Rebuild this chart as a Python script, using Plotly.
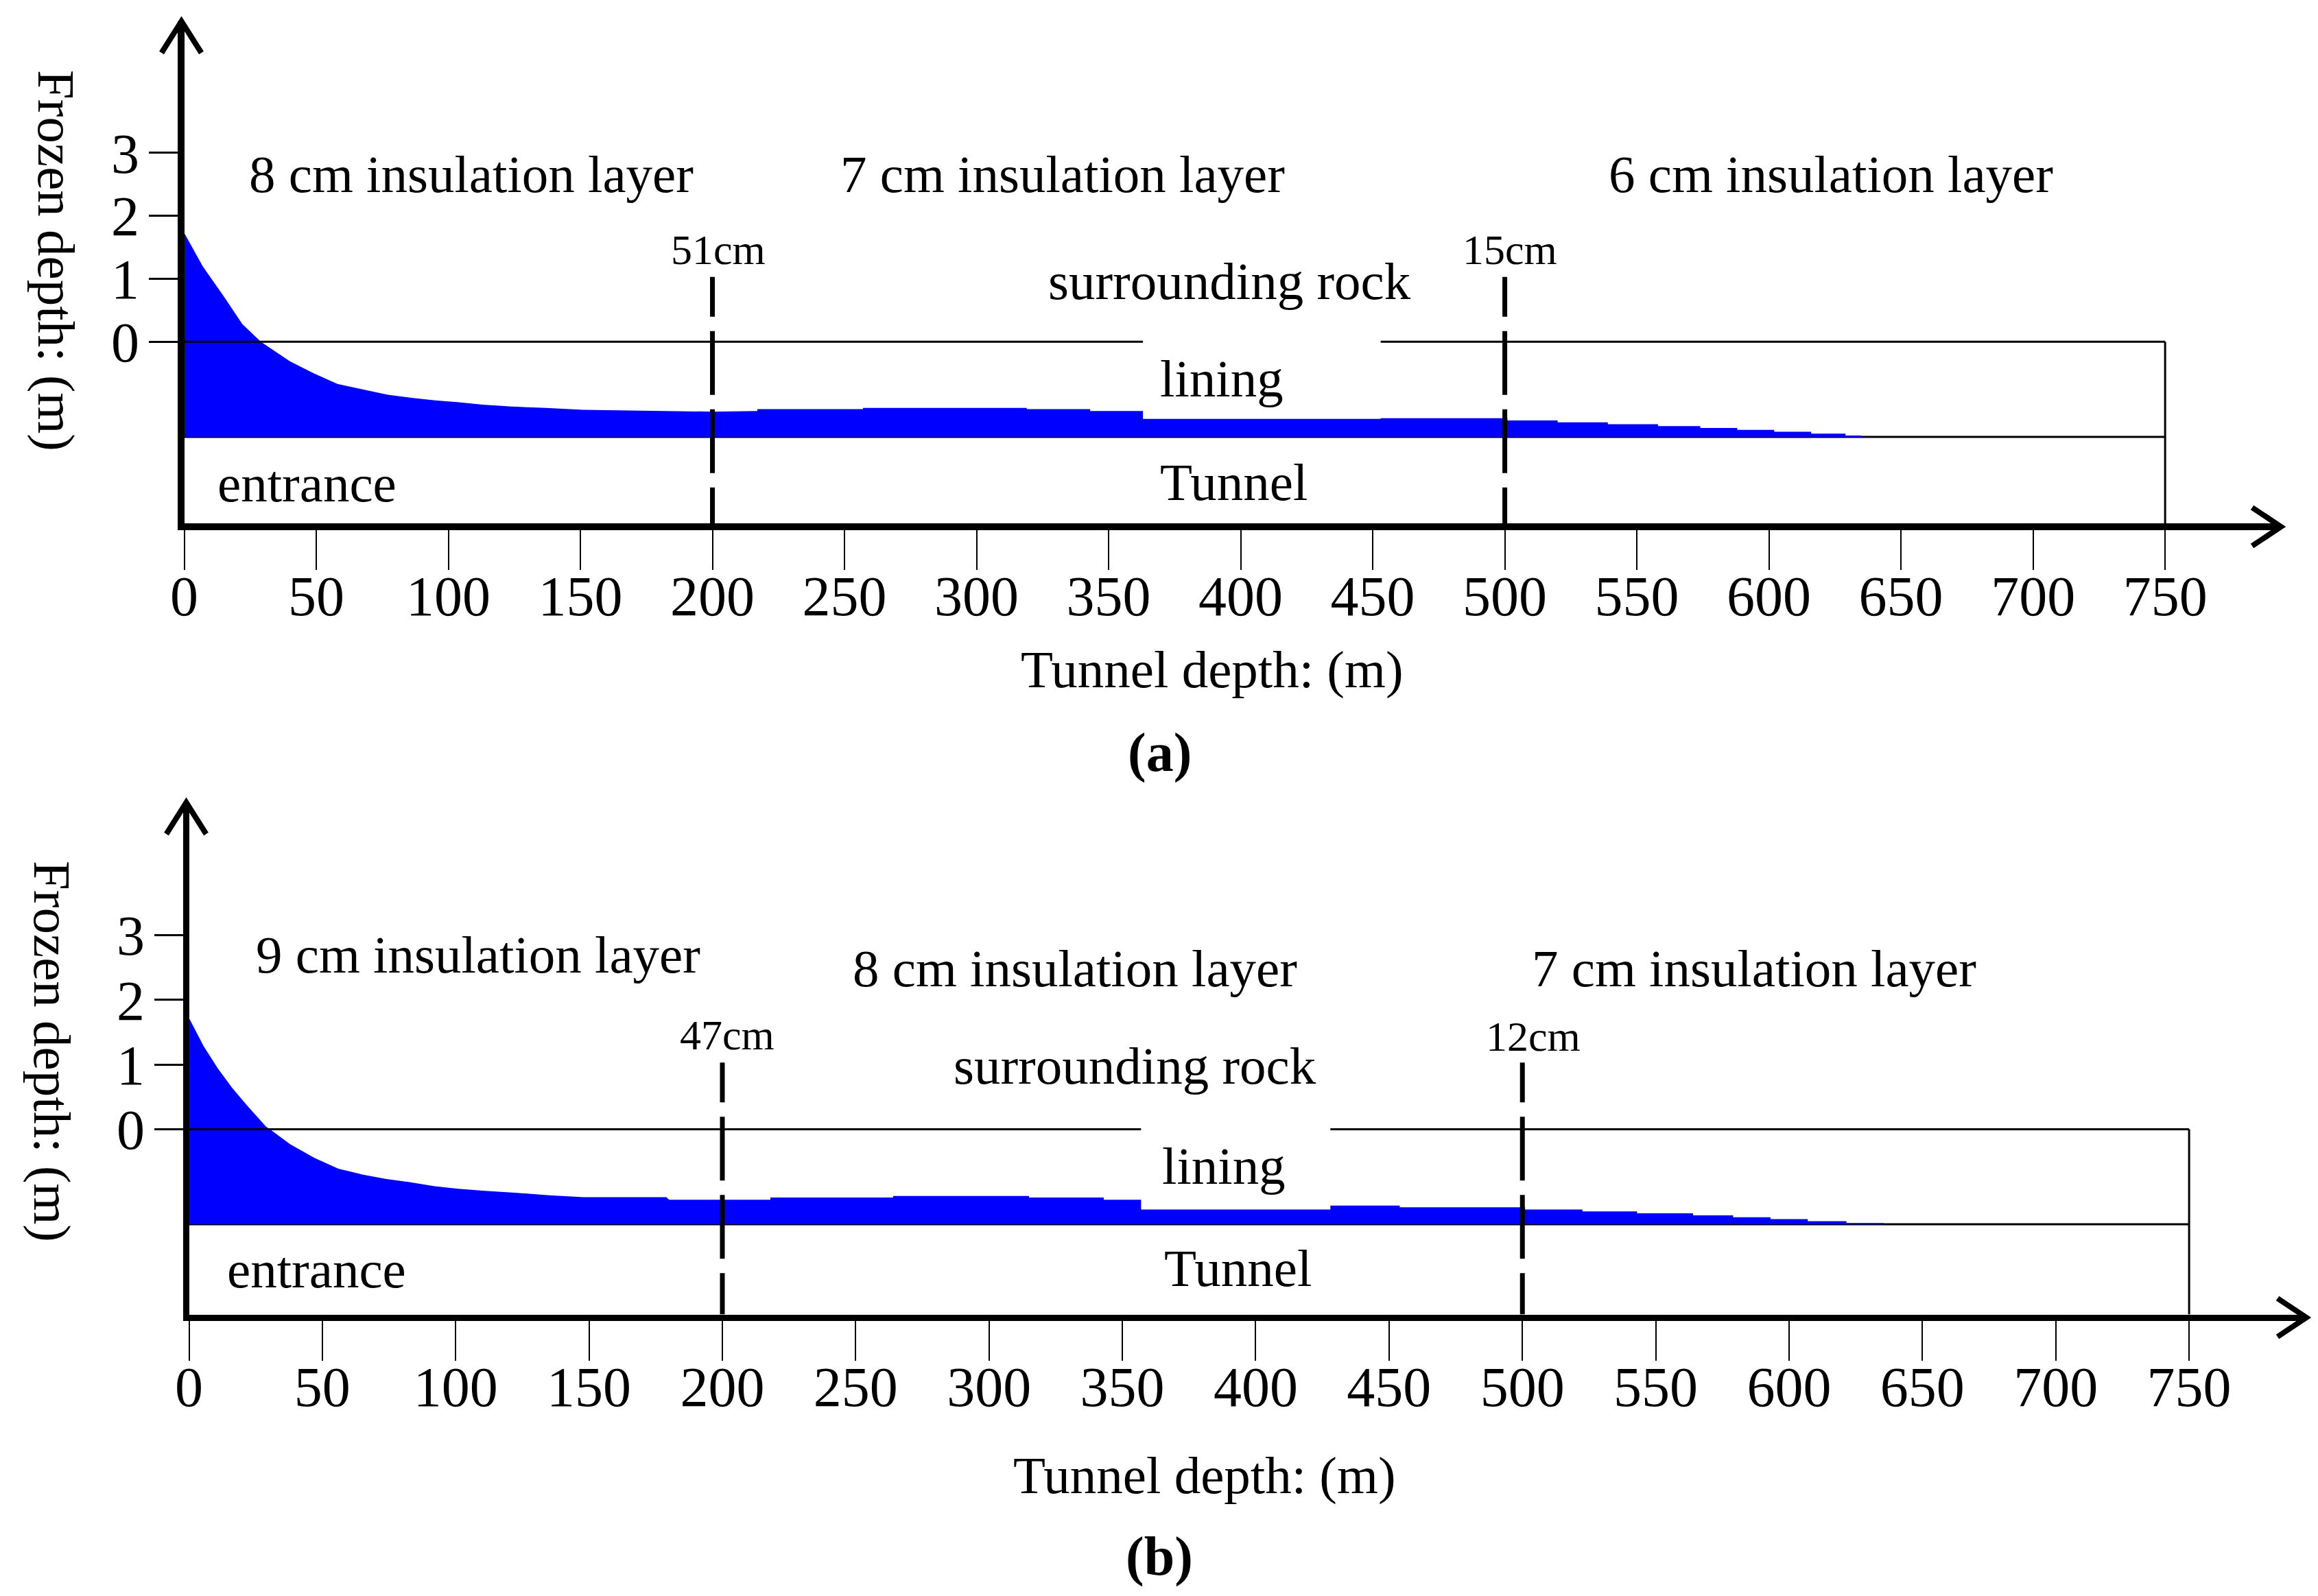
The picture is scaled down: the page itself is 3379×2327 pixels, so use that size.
import plotly.graph_objects as go

W, H = 3379, 2327          # browser window
OFF = 8                    # default body margin of the html page
FW, FH = W - 2 * OFF, H - 2 * OFF   # figure size
FONT = "Liberation Serif"
BLUE = "#0000FF"

# ---------------- data ----------------
x_tick_vals = list(range(0, 751, 50))
y_tick_vals = [0, 1, 2, 3]

# Panel (a): frozen-depth outline (smooth part near entrance)
a_curve_x = [0, 7, 15, 22, 29, 40, 49, 58, 67, 77, 86, 95, 104, 113, 124, 137, 151, 180, 200, 217]
a_curve_top = [1.73, 1.20, 0.72, 0.28, 0.0, -0.31, -0.50, -0.67, -0.75, -0.84, -0.89, -0.93,
               -0.96, -1.00, -1.03, -1.05, -1.08, -1.10, -1.11, -1.10]
# Panel (a): stepped part
a_step_edges = [217, 257, 319, 343, 363, 453, 501, 520, 539, 558, 574, 588, 602, 616, 629, 635]
a_step_top = [-1.07, -1.05, -1.07, -1.10, -1.225, -1.215, -1.25, -1.28, -1.31, -1.34, -1.37,
              -1.40, -1.43, -1.46, -1.49]
a_base = -1.51
a_gap = [363, 453]          # gap in the y=0 line
a_dashed = [200, 500]
a_dash_labels = ["51cm", "15cm"]
a_layers = ["8 cm insulation layer", "7 cm insulation layer", "6 cm insulation layer"]

# Panel (b)
b_curve_x = [0, 5.4, 10.8, 16.2, 21.7, 28.9, 30.7, 37.9, 46.9, 56, 65, 74, 83, 92, 101, 110,
             122, 135, 148, 179, 180, 218]
b_curve_top = [1.72, 1.29, 0.94, 0.64, 0.37, 0.04, -0.01, -0.23, -0.44, -0.61, -0.70, -0.77,
               -0.82, -0.88, -0.92, -0.95, -0.98, -1.02, -1.05, -1.05, -1.09, -1.09]
b_step_edges = [218, 264, 315, 343, 357, 428, 454, 501, 522.5, 543, 564, 579, 593, 607, 621.5, 635.5]
b_step_top = [-1.055, -1.03, -1.055, -1.09, -1.24, -1.18, -1.205, -1.24, -1.27, -1.30, -1.33,
              -1.36, -1.39, -1.42, -1.45]
b_base = -1.47
b_gap = [357, 428]
b_dashed = [200, 500]
b_dash_labels = ["47cm", "12cm"]
b_layers = ["9 cm insulation layer", "8 cm insulation layer", "7 cm insulation layer"]

# ---------------- layout geometry (window pixels) ----------------
P = {
    "a": dict(x0px=266.5, pxm=3.8527, y0px=498.3, pxu=91.8, lw=10, xline=768, tip_x=3325, tip_y=31),
    "b": dict(x0px=273.5, pxm=3.890, y0px=1646.5, pxu=94.3, lw=9, xline=1921, tip_x=3362, tip_y=1170),
}
YSHIFT = 2


def fx(px):   # window px -> paper fraction
    return (px - OFF) / FW


def fy(py):
    return 1 - (py - OFF) / FH


def outline(cx, ctop, edges, vals, base):
    xs, ys = list(cx), list(ctop)
    for i, v in enumerate(vals):
        xs += [edges[i], edges[i + 1]]
        ys += [v, v]
    xs += [edges[-1], 0, 0]
    ys += [base, base, ctop[0]]
    return xs, ys


fig = go.Figure()
shapes = []
annotations = []


def add_panel(key, xa, ya, cx, ctop, edges, vals, base, gap, dashed, dash_labels, layers,
              layer_pos, dash_lab_pos, rock_pos, lining_pos, entr_pos, tunnel_pos,
              xtitle_px, ytitle_px, letter, letter_px):
    g = P[key]
    lw = g["lw"]
    dom_left = g["x0px"] + 2
    dom_right = g["tip_x"]
    dom_bottom = g["xline"] - lw / 2
    dom_top = g["tip_y"]
    pxm = (dom_right - dom_left) / ((dom_right - g["x0px"]) / g["pxm"])
    xr = [0, (dom_right - dom_left) / pxm]
    yr = [(g["y0px"] - dom_bottom) / g["pxu"], (g["y0px"] - dom_top) / g["pxu"]]
    xref, yref = xa, ya
    xaxis_name = "xaxis" if xa == "x" else "xaxis" + xa[1:]
    yaxis_name = "yaxis" if ya == "y" else "yaxis" + ya[1:]

    fig.update_layout(**{
        xaxis_name: dict(domain=[fx(dom_left), fx(dom_right)], range=xr, anchor=ya,
                         tickmode="array", tickvals=x_tick_vals,
                         ticktext=[str(v) for v in x_tick_vals],
                         ticks="outside", ticklen=58, tickwidth=2, tickcolor="black",
                         ticklabelstandoff=-32,
                         showline=True, linewidth=lw, linecolor="black",
                         showgrid=False, zeroline=False, fixedrange=True,
                         tickfont=dict(family=FONT, size=82, color="black")),
        yaxis_name: dict(domain=[fy(dom_bottom), fy(dom_top)], range=yr, anchor=xa,
                         tickmode="array", tickvals=y_tick_vals,
                         ticktext=[str(v) for v in y_tick_vals],
                         ticks="outside", ticklen=42, tickwidth=3, tickcolor="black",
                         ticklabelstandoff=-3,
                         showline=True, linewidth=lw, linecolor="black",
                         showgrid=False, zeroline=False, fixedrange=True,
                         tickfont=dict(family=FONT, size=82, color="black")),
    })

    xs, ys = outline(cx, ctop, edges, vals, base)
    fig.add_trace(go.Scatter(x=xs, y=ys, xaxis=xa, yaxis=ya, mode="lines", fill="toself",
                             fillcolor=BLUE, line=dict(width=0, color=BLUE),
                             hoverinfo="skip", showlegend=False))

    ybot = yr[0]
    shapes.append(dict(type="line", xref=xref, yref=yref, x0=0, x1=750, y0=base, y1=base,
                       line=dict(color="black", width=3), layer="below"))
    shapes.append(dict(type="line", xref=xref, yref=yref, x0=0, x1=gap[0], y0=0, y1=0,
                       line=dict(color="black", width=3)))
    shapes.append(dict(type="line", xref=xref, yref=yref, x0=gap[1], x1=750, y0=0, y1=0,
                       line=dict(color="black", width=3)))
    shapes.append(dict(type="line", xref=xref, yref=yref, x0=750, x1=750, y0=0, y1=ybot,
                       line=dict(color="black", width=3)))
    for xd in dashed:
        shapes.append(dict(type="line", xref=xref, yref=yref, x0=xd, x1=xd, y0=1.03, y1=ybot,
                           line=dict(color="black", width=7,
                                     dash="58px,21px,93px,21px,93px,21px,93px,21px,200px")))
    shapes.append(dict(type="path", xref="paper", yref="paper",
                       xsizemode="pixel", ysizemode="pixel",
                       xanchor=fx(g["x0px"] - 2), yanchor=fy(g["tip_y"]),
                       path="M -29,-46 L 0,0 L 29,-46",
                       line=dict(color="black", width=8)))
    shapes.append(dict(type="path", xref="paper", yref="paper",
                       xsizemode="pixel", ysizemode="pixel",
                       xanchor=fx(g["tip_x"]), yanchor=fy(g["xline"]),
                       path="M -42,28 L 0,0 L -42,-28",
                       line=dict(color="black", width=8)))

    f = dict(family=FONT, size=77, color="black")
    for txt, (px_, py_) in zip(layers, layer_pos):
        annotations.append(dict(text=txt, x=px_, y=py_, xref=xref, yref=yref, yshift=YSHIFT,
                                showarrow=False, font=f, xanchor="center", yanchor="middle"))
    for txt, (px_, py_) in zip(dash_labels, dash_lab_pos):
        annotations.append(dict(text=txt, x=px_, y=py_, xref=xref, yref=yref, yshift=YSHIFT,
                                showarrow=False, font=dict(family=FONT, size=62, color="black"),
                                xanchor="center", yanchor="middle"))
    for txt, (px_, py_) in [("surrounding rock", rock_pos), ("lining", lining_pos),
                            ("entrance", entr_pos), ("Tunnel", tunnel_pos)]:
        annotations.append(dict(text=txt, x=px_, y=py_, xref=xref, yref=yref, yshift=YSHIFT,
                                showarrow=False, font=f, xanchor="center", yanchor="middle"))
    annotations.append(dict(text="Tunnel depth: (m)", x=fx(xtitle_px[0]), y=fy(xtitle_px[1]),
                            xref="paper", yref="paper", showarrow=False, font=f, yshift=YSHIFT,
                            xanchor="center", yanchor="middle"))
    annotations.append(dict(text="Frozen depth: (m)", x=fx(ytitle_px[0]), y=fy(ytitle_px[1]),
                            xref="paper", yref="paper", showarrow=False, font=f, textangle=90,
                            xanchor="center", yanchor="middle"))
    annotations.append(dict(text="<b>" + letter + "</b>", x=fx(letter_px[0]), y=fy(letter_px[1]),
                            xref="paper", yref="paper", showarrow=False, yshift=YSHIFT,
                            font=dict(family=FONT, size=80, color="black"),
                            xanchor="center", yanchor="middle"))


add_panel("a", "x", "y", a_curve_x, a_curve_top, a_step_edges, a_step_top, a_base, a_gap,
          a_dashed, a_dash_labels, a_layers,
          layer_pos=[(108.7, 2.64), (332.6, 2.64), (623.6, 2.64)],
          dash_lab_pos=[(202.1, 1.443), (501.8, 1.443)],
          rock_pos=(395.7, 0.94), lining_pos=(392.8, -0.605),
          entr_pos=(46.6, -2.27), tunnel_pos=(397.5, -2.25),
          xtitle_px=(1767, 978), ytitle_px=(82, 380), letter="(a)", letter_px=(1690, 1099))

add_panel("b", "x2", "y2", b_curve_x, b_curve_top, b_step_edges, b_step_top, b_base, b_gap,
          b_dashed, b_dash_labels, b_layers,
          layer_pos=[(108.4, 2.68), (332.3, 2.47), (586.8, 2.47)],
          dash_lab_pos=[(201.9, 1.44), (504.0, 1.42)],
          rock_pos=(354.6, 0.96), lining_pos=(388.0, -0.59),
          entr_pos=(47.9, -2.19), tunnel_pos=(393.2, -2.17),
          xtitle_px=(1756, 2153), ytitle_px=(76, 1533), letter="(b)", letter_px=(1690, 2271))

fig.update_layout(width=FW, height=FH, margin=dict(l=0, r=0, t=0, b=0, autoexpand=False),
                  paper_bgcolor="white", plot_bgcolor="white", showlegend=False,
                  shapes=shapes, annotations=annotations,
                  font=dict(family=FONT, color="black"))

fig.write_html("out.html")
